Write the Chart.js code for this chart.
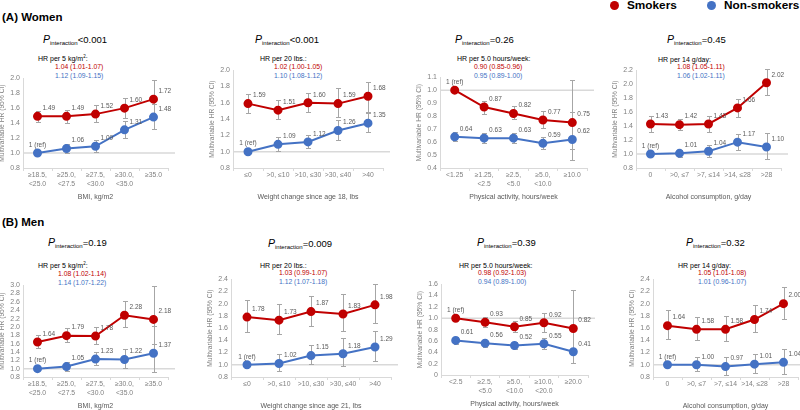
<!DOCTYPE html>
<html>
<head>
<meta charset="utf-8">
<script src="https://cdn.jsdelivr.net/npm/chart.js@4.4.1/dist/chart.umd.min.js"></script>
<style>
  body { margin: 0; width: 800px; height: 410px; position: relative; background: #fff; overflow: hidden;
         font-family: "Liberation Sans", Arial, sans-serif; }
  canvas { position: absolute; }
  .t { position: absolute; white-space: nowrap; line-height: 1; transform: translateY(-50%); }
  .sec { font-weight: bold; font-size: 11.5px; color: #000; }
  .leg { font-weight: bold; font-size: 11.8px; color: #000; }
  .dot { position: absolute; width: 9px; height: 9px; border-radius: 50%; }
  .pint { font-size: 9.5px; color: #000; }
  .pint i { font-size: 10.5px; }
  .pint sub { font-size: 6px; vertical-align: -2px; }
  .hr { font-size: 7px; color: #000; }
  .hr sup { font-size: 4.5px; vertical-align: 3px; }
  .red { font-size: 6.8px; color: #c00000; }
  .blue { font-size: 6.8px; color: #4472c4; }
</style>
</head>
<body>

<div class="t sec" style="left:2px;top:18px">(A) Women</div>
<div class="t sec" style="left:2px;top:223px">(B) Men</div>

<div class="dot" style="left:610px;top:1px;background:#c00000"></div>
<div class="t leg" style="left:627px;top:6px">Smokers</div>
<div class="dot" style="left:707px;top:1px;background:#4472c4"></div>
<div class="t leg" style="left:724px;top:6px">Non-smokers</div>

<!-- women -->
<div class="t pint" style="left:43px;top:40px"><i>P</i><sub>interaction</sub>&lt;0.001</div>
<div class="t hr" style="left:38px;top:58px">HR per 5 kg/m<sup>2</sup>:</div>
<div class="t red" style="left:55px;top:67px">1.04 (1.01-1.07)</div>
<div class="t blue" style="left:55px;top:76px">1.12 (1.09-1.15)</div>

<div class="t pint" style="left:255px;top:40px"><i>P</i><sub>interaction</sub>&lt;0.001</div>
<div class="t hr" style="left:260px;top:58px">HR per 20 lbs.:</div>
<div class="t red" style="left:274px;top:67px">1.02 (1.00-1.05)</div>
<div class="t blue" style="left:274px;top:76px">1.10 (1.08-1.12)</div>

<div class="t pint" style="left:455px;top:40px"><i>P</i><sub>interaction</sub>=0.26</div>
<div class="t hr" style="left:457px;top:58px">HR per 5.0 hours/week:</div>
<div class="t red" style="left:474px;top:67px">0.90 (0.85-0.96)</div>
<div class="t blue" style="left:474px;top:76px">0.95 (0.89-1.00)</div>

<div class="t pint" style="left:667px;top:40px"><i>P</i><sub>interaction</sub>=0.45</div>
<div class="t hr" style="left:658px;top:59px">HR per 14 g/day:</div>
<div class="t red" style="left:677px;top:67px">1.08 (1.05-1.11)</div>
<div class="t blue" style="left:677px;top:76px">1.06 (1.02-1.11)</div>

<!-- men -->
<div class="t pint" style="left:48px;top:243px"><i>P</i><sub>interaction</sub>=0.19</div>
<div class="t hr" style="left:38px;top:265px">HR per 5 kg/m<sup>2</sup>:</div>
<div class="t red" style="left:58px;top:274px">1.08 (1.02-1.14)</div>
<div class="t blue" style="left:58px;top:283px">1.14 (1.07-1.22)</div>

<div class="t pint" style="left:268px;top:244px"><i>P</i><sub>interaction</sub>=0.009</div>
<div class="t hr" style="left:260px;top:265px">HR per 20 lbs.:</div>
<div class="t red" style="left:279px;top:273px">1.03 (0.99-1.07)</div>
<div class="t blue" style="left:279px;top:282px">1.12 (1.07-1.18)</div>

<div class="t pint" style="left:477px;top:243px"><i>P</i><sub>interaction</sub>=0.39</div>
<div class="t hr" style="left:459px;top:265px">HR per 5.0 hours/week:</div>
<div class="t red" style="left:478px;top:273px">0.98 (0.92-1.03)</div>
<div class="t blue" style="left:478px;top:282px">0.94 (0.89-1.00)</div>

<div class="t pint" style="left:686px;top:243px"><i>P</i><sub>interaction</sub>=0.32</div>
<div class="t hr" style="left:678px;top:265px">HR per 14 g/day:</div>
<div class="t red" style="left:698px;top:273px">1.05 (1.01-1.08)</div>
<div class="t blue" style="left:698px;top:282px">1.01 (0.96-1.07)</div>

<script>
// ! CATEGORIES
const bmiLabels = [["≥18.5,", "<25.0"], ["≥25.0,", "<27.5"], ["≥27.5,", "<30.0"], ["≥30.0,", "<35.0"], "≥35.0"];
const weightLabels = ["≤0", ">0, ≤10", ">10, ≤30", ">30, ≤40", ">40"];
const womenActivityLabels = ["<1.25", ["≥1.25,", "<2.5"], ["≥2.5,", "<5.0"], ["≥5.0,", "<10.0"], "≥10.0"];
const menActivityLabels = ["<2.5", ["≥2.5,", "<5.0"], ["≥5.0,", "<10.0"], ["≥10.0,", "<20.0"], "≥20.0"];
const alcoholLabels = ["0", ">0, ≤7", ">7, ≤14", ">14, ≤28", ">28"];

// ! HR VALUES [hr, lower, upper]
const womenBmiSmokers = [[1.49, 1.42, 1.56], [1.49, 1.40, 1.58], [1.52, 1.41, 1.64], [1.60, 1.47, 1.74], [1.72, 1.49, 1.97]];
const womenBmiNon = [[1, 1, 1], [1.06, 1.00, 1.12], [1.09, 1.01, 1.18], [1.31, 1.20, 1.43], [1.48, 1.32, 1.65]];
const womenWeightSmokers = [[1.59, 1.48, 1.71], [1.51, 1.40, 1.63], [1.60, 1.49, 1.72], [1.59, 1.42, 1.78], [1.68, 1.49, 1.85]];
const womenWeightNon = [[1, 1, 1], [1.09, 1.01, 1.18], [1.12, 1.04, 1.20], [1.26, 1.14, 1.39], [1.35, 1.24, 1.47]];
const womenActivitySmokers = [[1, 1, 1], [0.87, 0.82, 0.92], [0.82, 0.78, 0.88], [0.77, 0.71, 0.84], [0.75, 0.55, 1.08]];
const womenActivityNon = [[0.64, 0.61, 0.68], [0.63, 0.59, 0.67], [0.63, 0.59, 0.67], [0.59, 0.55, 0.64], [0.62, 0.46, 0.83]];
const womenAlcoholSmokers = [[1.43, 1.32, 1.55], [1.42, 1.34, 1.50], [1.43, 1.32, 1.55], [1.66, 1.53, 1.79], [2.02, 1.84, 2.22]];
const womenAlcoholNon = [[1, 1, 1], [1.01, 0.96, 1.06], [1.04, 0.96, 1.13], [1.17, 1.06, 1.29], [1.10, 0.93, 1.30]];

const menBmiSmokers = [[1.64, 1.50, 1.80], [1.79, 1.63, 1.97], [1.78, 1.58, 2.01], [2.28, 1.99, 2.62], [2.18, 1.60, 2.97]];
const menBmiNon = [[1, 1, 1], [1.05, 0.95, 1.16], [1.23, 1.08, 1.41], [1.22, 1.02, 1.46], [1.37, 0.93, 2.02]];
const menWeightSmokers = [[1.78, 1.54, 2.06], [1.73, 1.51, 1.99], [1.87, 1.64, 2.12], [1.83, 1.55, 2.16], [1.98, 1.68, 2.32]];
const menWeightNon = [[1, 1, 1], [1.02, 0.89, 1.17], [1.15, 1.01, 1.32], [1.18, 0.98, 1.43], [1.29, 1.06, 1.56]];
const menActivitySmokers = [[1, 1, 1], [0.93, 0.85, 1.02], [0.85, 0.76, 0.95], [0.92, 0.76, 1.10], [0.82, 0.45, 1.49]];
const menActivityNon = [[0.61, 0.55, 0.67], [0.56, 0.50, 0.62], [0.52, 0.46, 0.59], [0.55, 0.46, 0.66], [0.41, 0.21, 0.80]];
const menAlcoholSmokers = [[1.64, 1.42, 1.90], [1.58, 1.40, 1.78], [1.58, 1.39, 1.80], [1.74, 1.54, 1.98], [2.00, 1.75, 2.28]];
const menAlcoholNon = [[1, 1, 1], [1.00, 0.89, 1.13], [0.97, 0.83, 1.12], [1.01, 0.86, 1.18], [1.04, 0.85, 1.26]];

// ! Y TICKS [min, max, step]
const womenBmiTicks = [0.8, 2, 0.2];
const womenWeightTicks = [0.8, 2, 0.2];
const womenActivityTicks = [0.4, 1.1, 0.1];
const womenAlcoholTicks = [0.8, 2.2, 0.2];
const menBmiTicks = [0.8, 3, 0.2];
const menWeightTicks = [0.8, 2.4, 0.2];
const menActivityTicks = [0, 1.6, 0.2];
const menAlcoholTicks = [0.8, 2.4, 0.2];

const RED = "#c00000";
const BLUE = "#4472c4";
const FONT = '"Liberation Sans", Arial, sans-serif';
Chart.defaults.font.family = FONT;

// ! PANELS (plot area in page pixels)
const panels = [
  { L: 23, T: 77, R: 168, B: 168, labels: bmiLabels, smk: womenBmiSmokers, non: womenBmiNon, ticks: womenBmiTicks, xTitle: "BMI, kg/m2" },
  { L: 233, T: 69, R: 383, B: 168, labels: weightLabels, smk: womenWeightSmokers, non: womenWeightNon, ticks: womenWeightTicks, xTitle: "Weight change since age 18, lbs" },
  { L: 440, T: 76, R: 587, B: 168, labels: womenActivityLabels, smk: womenActivitySmokers, non: womenActivityNon, ticks: womenActivityTicks, xTitle: "Physical activity, hours/week" },
  { L: 636, T: 69, R: 781, B: 168, labels: alcoholLabels, smk: womenAlcoholSmokers, non: womenAlcoholNon, ticks: womenAlcoholTicks, xTitle: "Alcohol consumption, g/day" },
  { L: 23, T: 284, R: 168, B: 377, labels: bmiLabels, smk: menBmiSmokers, non: menBmiNon, ticks: menBmiTicks, xTitle: "BMI, kg/m2" },
  { L: 231, T: 278, R: 391, B: 377, labels: weightLabels, smk: menWeightSmokers, non: menWeightNon, ticks: menWeightTicks, xTitle: "Weight change since age 21, lbs" },
  { L: 441, T: 283, R: 588, B: 375, labels: menActivityLabels, smk: menActivitySmokers, non: menActivityNon, ticks: menActivityTicks, xTitle: "Physical activity, hours/week" },
  { L: 653, T: 278, R: 798, B: 377, labels: alcoholLabels, smk: menAlcoholSmokers, non: menAlcoholNon, ticks: menAlcoholTicks, xTitle: "Alcohol consumption, g/day" },
];

const Y_W = 25, X_H = 33, PAD_T = 6, PAD_R = 12;

// ! ERROR BARS, REFERENCE LINE, VALUE LABELS
const hrPlugin = {
  id: "hrPlugin",
  beforeDatasetsDraw(chart) {
    const { ctx, chartArea, scales: { y } } = chart;
    const y1 = y.getPixelForValue(1);
    ctx.save();
    ctx.strokeStyle = "#d9d9d9";
    ctx.lineWidth = 1.5;
    ctx.beginPath();
    ctx.moveTo(chartArea.left, y1);
    ctx.lineTo(chartArea.right + 7, y1);
    ctx.stroke();

    ctx.strokeStyle = "#a6a6a6";
    ctx.lineWidth = 1;
    chart.data.datasets.forEach((ds, i) => {
      chart.getDatasetMeta(i).data.forEach((pt, j) => {
        const lo = ds.ci[j][0], hi = ds.ci[j][1];
        if (lo === hi) return;
        const top = Math.round(y.getPixelForValue(hi)) + 0.5;
        const bot = Math.round(y.getPixelForValue(lo)) + 0.5;
        const x = Math.round(pt.x) + 0.5;
        ctx.beginPath();
        ctx.moveTo(x, top); ctx.lineTo(x, bot);
        ctx.moveTo(x - 2.5, top); ctx.lineTo(x + 2.5, top);
        ctx.moveTo(x - 2.5, bot); ctx.lineTo(x + 2.5, bot);
        ctx.stroke();
      });
    });
    ctx.restore();
  },
  afterDatasetsDraw(chart) {
    const { ctx } = chart;
    ctx.save();
    ctx.font = "6.5px " + FONT;
    ctx.fillStyle = "#595959";
    ctx.textBaseline = "middle";
    chart.data.datasets.forEach((ds, i) => {
      chart.getDatasetMeta(i).data.forEach((pt, j) => {
        const v = ds.data[j];
        if (j === 0 && v === 1) {
          ctx.textAlign = "center";
          ctx.fillText("1 (ref)", pt.x, pt.y - 8);
        } else {
          ctx.textAlign = "left";
          ctx.fillText(v.toFixed(2), pt.x + 5, pt.y - 8);
        }
      });
    });
    ctx.restore();
  },
};

panels.forEach((p) => {
  const canvas = document.createElement("canvas");
  const w = Y_W + (p.R - p.L) + PAD_R;
  const h = PAD_T + (p.B - p.T) + X_H + 2;
  canvas.width = w;
  canvas.height = h;
  canvas.style.left = p.L - Y_W + "px";
  canvas.style.top = p.T - PAD_T + "px";
  document.body.appendChild(canvas);

  const series = (rows, color) => ({
    data: rows.map((r) => r[0]),
    ci: rows.map((r) => [r[1], r[2]]),
    borderColor: color,
    backgroundColor: color,
    borderWidth: 2,
    pointRadius: 3.5,
    pointHoverRadius: 3.5,
    tension: 0,
  });

  new Chart(canvas, {
    type: "line",
    data: {
      labels: p.labels,
      datasets: [series(p.smk, RED), series(p.non, BLUE)],
    },
    options: {
      responsive: false,
      animation: false,
      devicePixelRatio: 1,
      layout: { padding: { top: PAD_T, right: PAD_R, left: 0, bottom: 2 } },
      plugins: { legend: { display: false }, tooltip: { enabled: false } },
      scales: {
        x: {
          offset: true,
          grid: { offset: true, drawOnChartArea: false, color: "#d9d9d9", tickLength: 3 },
          border: { color: "#d9d9d9" },
          ticks: { font: { size: 6.8, lineHeight: 1.25 }, color: "#808080", padding: 0, maxRotation: 0, autoSkip: false },
          title: { display: true, text: p.xTitle, font: { size: 7 }, color: "#595959", padding: 0 },
          afterFit: (s) => { s.height = X_H; },
        },
        y: {
          min: p.ticks[0],
          max: p.ticks[1],
          ticks: { stepSize: p.ticks[2], font: { size: 7 }, color: "#808080", padding: 3, autoSkip: false },
          grid: { drawOnChartArea: false, drawTicks: false, color: "#d9d9d9" },
          border: { color: "#d9d9d9" },
          title: { display: true, text: "Multivariable HR (95% CI)", font: { size: 6.7 }, color: "#808080", padding: 0 },
          afterFit: (s) => { s.width = Y_W; },
        },
      },
    },
    plugins: [hrPlugin],
  });
});
</script>
</body>
</html>
